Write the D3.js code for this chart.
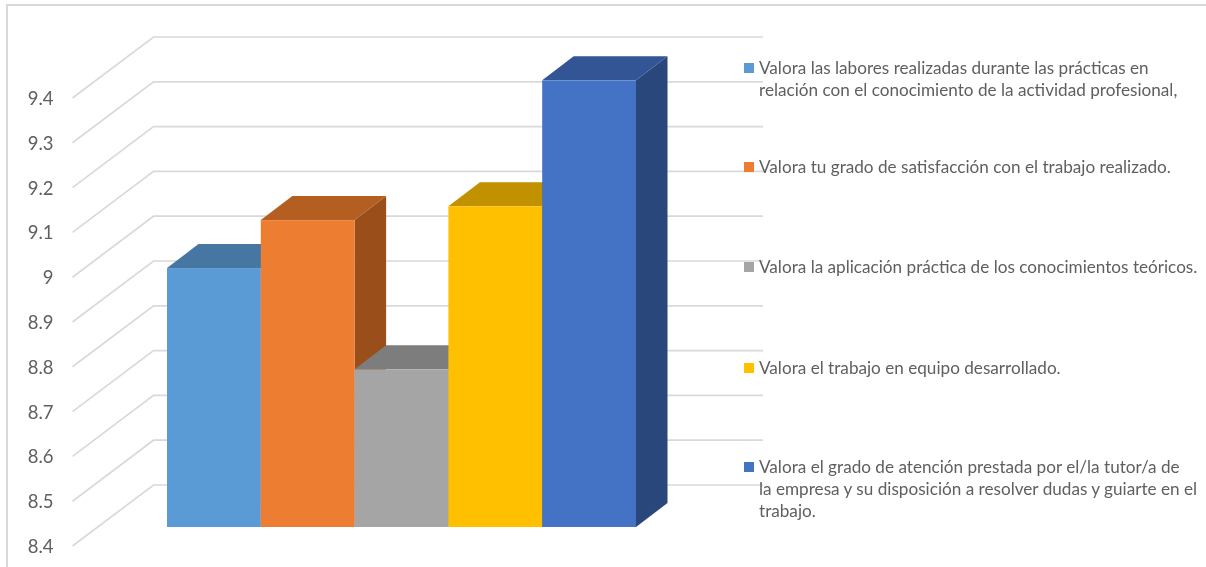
<!DOCTYPE html>
<html>
<head>
<meta charset="utf-8">
<script src="https://d3js.org/d3.v7.min.js"></script>
<style>
  html, body { margin: 0; padding: 0; background: #fff; }
  svg { display: block; filter: blur(0.4px); }
  text { font-family: Lato, "Open Sans", sans-serif; fill: #5f5f5f; }
</style>
</head>
<body>
<div id="chart"></div>
<script>
var categories = [
  "Valora las labores realizadas durante las prácticas en relación con el conocimiento de la actividad profesional,",
  "Valora tu grado de satisfacción con el trabajo realizado.",
  "Valora la aplicación práctica de los conocimientos teóricos.",
  "Valora el trabajo en equipo desarrollado.",
  "Valora el grado de atención prestada por el/la tutor/a de la empresa y su disposición a resolver dudas y guiarte en el trabajo."
];
var values = [8.978, 9.085, 8.752, 9.116, 9.397];
var tickValues = [8.4, 8.5, 8.6, 8.7, 8.8, 8.9, 9, 9.1, 9.2, 9.3, 9.4];
var legendLines = [
  ["Valora las labores realizadas durante las prácticas en", "relación con el conocimiento de la actividad profesional,"],
  ["Valora tu grado de satisfacción con el trabajo realizado."],
  ["Valora la aplicación práctica de los conocimientos teóricos."],
  ["Valora el trabajo en equipo desarrollado."],
  ["Valora el grado de atención prestada por el/la tutor/a de", "la empresa y su disposición a resolver dudas y guiarte en el", "trabajo."]
];
var frontColors = ["#5b9bd5", "#ed7d31", "#a5a5a5", "#ffc000", "#4472c4"];
var topColors = ["#4676a2", "#b55e22", "#7d7d7d", "#c19100", "#335595"];
var sideColors = ["#3b6590", "#9a4f1b", "#6c6c6c", "#a67c00", "#29477a"];

var width = 1206, height = 567;

// floor depth of the fake 3d box
var wallDx = 81, wallDy = -61;
// depth of the columns, and how far they stand in from the front edge
var barDx = 31.5, barDy = -24;
var barLift = -19;

var svg = d3.select("#chart").append("svg")
    .attr("width", width)
    .attr("height", height);

// frame
svg.append("path")
    .attr("d", "M7,567V5H1206")
    .attr("fill", "none")
    .attr("stroke", "#d9d9d9")
    .attr("stroke-width", 2);

var y = d3.scaleLinear()
    .domain([8.4, 9.4])
    .range([546, 98]);

var x = d3.scaleBand()
    .domain(categories)
    .range([167, 636]);

// Grid lines, side wall and back wall
var wallLeft = 72.5, wallRight = 763;
svg.append("g")
  .selectAll("polyline")
  .data(tickValues)
  .enter()
  .append("polyline")
    .attr("points", function(d) {
      return [
        [wallLeft, y(d)],
        [wallLeft + wallDx, y(d) + wallDy],
        [wallRight, y(d) + wallDy]
      ].join(" ");
    })
    .attr("fill", "none")
    .attr("stroke", "#d9d9d9")
    .attr("stroke-width", 1.7);

// Y axis, only the labels show
var yAxis = svg.append("g")
    .attr("class", "y-axis")
    .attr("transform", "translate(53.5,0.5)")
    .call(d3.axisLeft(y).tickValues(tickValues).tickSize(0).tickPadding(0).tickFormat(function(d) { return String(d); }));
yAxis.select(".domain").remove();
yAxis.selectAll("text")
    .attr("font-size", 18.5)
    .attr("font-family", null)
    .attr("x", 0);

// Columns, left to right so each front face hides the side of the previous one
var base = y(8.4) + barLift;
var bars = svg.append("g")
  .selectAll("g")
  .data(categories)
  .enter()
  .append("g");

function barTop(i) { return y(values[i]) + barLift; }

bars.append("polygon")
    .attr("points", function(d, i) {
      var x1 = x(d) + x.bandwidth();
      return [[x1, barTop(i)], [x1 + barDx, barTop(i) + barDy], [x1 + barDx, base + barDy], [x1, base]].join(" ");
    })
    .attr("fill", function(d, i) { return sideColors[i]; });

bars.append("polygon")
    .attr("points", function(d, i) {
      var x0 = x(d), x1 = x(d) + x.bandwidth();
      return [[x0, barTop(i)], [x0 + barDx, barTop(i) + barDy], [x1 + barDx, barTop(i) + barDy], [x1, barTop(i)]].join(" ");
    })
    .attr("fill", function(d, i) { return topColors[i]; });

bars.append("rect")
    .attr("x", function(d) { return x(d); })
    .attr("y", function(d, i) { return barTop(i); })
    .attr("width", x.bandwidth())
    .attr("height", function(d, i) { return base - barTop(i); })
    .attr("fill", function(d, i) { return frontColors[i]; });

// Legend
var legendTop = [68, 167, 267, 368, 467];
var legend = svg.append("g")
  .selectAll("g")
  .data(categories)
  .enter()
  .append("g")
    .attr("transform", function(d, i) { return "translate(744," + legendTop[i] + ")"; });

legend.append("rect")
    .attr("y", -5)
    .attr("width", 10)
    .attr("height", 10)
    .attr("fill", function(d, i) { return frontColors[i]; });

legend.selectAll("text")
  .data(function(d, i) { return legendLines[i]; })
  .enter()
  .append("text")
    .attr("x", 15)
    .attr("y", function(d, j) { return 5.5 + j * 22.3; })
    .attr("font-size", 17.15)
    .text(function(d) { return d; });
</script>
</body>
</html>
